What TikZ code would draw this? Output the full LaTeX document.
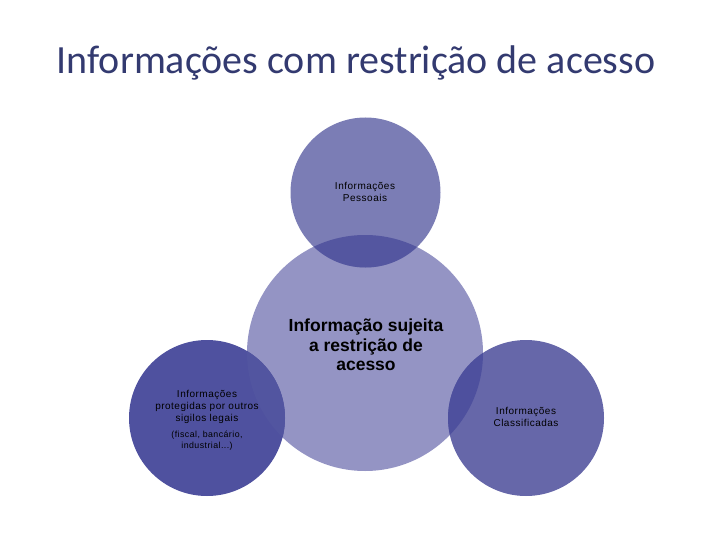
\documentclass[tikz,border=0pt]{standalone}
\usepackage{fontspec}
\setmainfont{Liberation Sans}
\newfontfamily\titlefont{Carlito}
\newfontfamily\spacedfont{Liberation Sans}[LetterSpace=5]
\definecolor{titlecol}{HTML}{333A70}
\definecolor{ctop}{HTML}{7B7DB5}
\definecolor{ccen}{HTML}{9494C4}
\definecolor{cleft}{HTML}{4F519F}
\definecolor{cright}{HTML}{6667A9}
\definecolor{covl}{HTML}{5255A0}
\definecolor{covr}{HTML}{4E509E}
\definecolor{covt}{HTML}{5456A0}
\begin{document}
\begin{tikzpicture}[x=1pt,y=-1pt,
  lbl/.style={align=center,text=black,inner sep=0pt},
  small/.style={lbl,font=\spacedfont\fontsize{10}{11.7}\selectfont},
  tiny/.style={lbl,font=\spacedfont\fontsize{8.8}{11}\selectfont}]
\useasboundingbox (0,0) rectangle (720,540);
\node[text=titlecol,font=\titlefont\fontsize{40}{44}\selectfont] (title) at (356,63) {Informações com restrição de acesso};
% circles
\coordinate (ct) at (365.5,192.5);
\coordinate (cc) at (365,353);
\coordinate (cl) at (207,418);
\coordinate (cr) at (526,418);
\fill[ccen] (cc) circle (118);
\fill[ctop] (ct) circle (75);
\fill[cleft] (cl) circle (78);
\fill[cright] (cr) circle (78);
\begin{scope}
\clip (cc) circle (118);
\fill[covt] (ct) circle (75);
\fill[covl] (cl) circle (78);
\fill[covr] (cr) circle (78);
\end{scope}
% labels
\node[small] (tp) at (365,192) {Informações\\Pessoais};
\node[lbl,font=\bfseries\fontsize{17.5}{19.5}\selectfont] (cen) at (366,345) {Informação sujeita\\a restrição de\\acesso};
\node[small] (lf) at (207,407) {Informações\\protegidas por outros\\sigilos legais};
\node[tiny] (lf2) at (207,441) {(fiscal, bancário,\\industrial...)};
\node[small] (rt) at (526,417) {Informações\\Classificadas};
\end{tikzpicture}
\end{document}
